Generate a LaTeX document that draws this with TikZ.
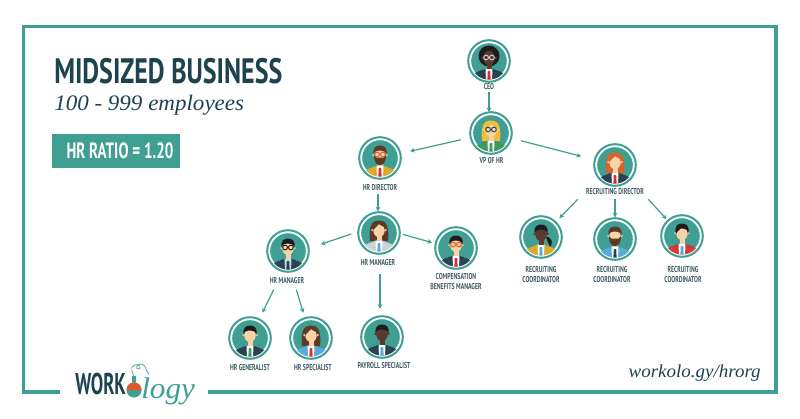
\documentclass[tikz,border=0pt]{standalone}
\usepackage{fontspec}
\usepackage{tikz}
\usetikzlibrary{positioning}
\usetikzlibrary{arrows.meta}
\newfontfamily\dinfont[FakeStretch=0.68]{PT Sans}
\newfontfamily\titlefont[FakeStretch=0.735]{PT Sans}
\newfontfamily\logofont[FakeStretch=0.62]{PT Sans}
\newfontfamily\slabfont[FakeStretch=1.04]{Liberation Serif}
\definecolor{orgteal}{HTML}{3E9F92}
\definecolor{orgdark}{HTML}{1D4350}
\definecolor{orglabel}{HTML}{3F5A63}
\definecolor{flaskred}{HTML}{E2572B}
\definecolor{skinpale}{HTML}{F8D3A6}
\definecolor{skindark}{HTML}{5B3A2E}
\definecolor{hairblack}{HTML}{1E1A1D}
\definecolor{hairbrown}{HTML}{5C3A2A}
\definecolor{hairred}{HTML}{D9622B}
\definecolor{hairgold}{HTML}{F0BF36}
\definecolor{suitdark}{HTML}{2B4351}
\definecolor{suitgold}{HTML}{DDA82C}
\definecolor{suitgreen}{HTML}{3E9A5F}
\definecolor{suitgrey}{HTML}{CBD3D6}
\definecolor{suitblue}{HTML}{5AA9D8}
\definecolor{suitred}{HTML}{D23A34}
\definecolor{tiered}{HTML}{D62F2F}
\definecolor{tieblue}{HTML}{55ACD6}
\definecolor{tiegreen}{HTML}{3E9A5F}
\newcommand{\person}[7]% node, skin, suit, shirt, tie, behind, in front
{\begin{scope}[shift={(#1.center)}]
	\clip (0,0) circle (18.6);
	#6
	\fill[#3] (-16,20) -- (-16,15) .. controls (-14,10) and (-8,10) .. (-3,7.5) -- (3,7.5) .. controls (8,10) and (14,10) .. (16,15) -- (16,20) -- cycle;
	\fill[#4] (-3.5,7.5) -- (3.5,7.5) -- (3,20) -- (-3,20) -- cycle;
	\fill[#2] (-2.5,1) rectangle (2.5,8);
	\fill[#5] (-1.2,10) -- (1.2,10) -- (1.7,20) -- (-1.7,20) -- cycle;
	\fill[#2] (-6.6,-3) circle (1.3) (6.6,-3) circle (1.3) (0,-3) ellipse (5.8 and 7.2);
	#7
\end{scope}}
\newcommand{\shorthair}[1]% colour
{\fill[#1] (-6.2,-3) .. controls (-8,-11) and (-3,-12.5) .. (0,-12.5) .. controls (4,-12.5) and (8,-10) .. (6.2,-3) -- (5.2,-6) .. controls (2,-8) and (-3,-8) .. (-5.2,-6) -- cycle;
}
\newcommand{\longhair}[1]% colour
{\fill[#1] (-9,8) .. controls (-10,-4) and (-9,-12.5) .. (0,-12.5) .. controls (9,-12.5) and (10,-4) .. (9,8) -- cycle;
}
\newcommand{\fringe}[1]% colour
{\fill[#1] (-6,-2) .. controls (-7,-11) and (-2,-11) .. (0,-11) .. controls (3,-11) and (7,-10) .. (6,-2) -- (5,-6) .. controls (3,-7) and (1,-8) .. (0,-9) .. controls (-1,-7) and (-4,-6) .. (-5,-4) -- cycle;
}
\newcommand{\glasses}[1]% colour
{\draw[#1,line width=.7pt] (-2.9,-3.5) circle (2.4) (2.9,-3.5) circle (2.4) (-.5,-3.5) -- (.5,-3.5);
}
\newcommand{\beard}[1]% colour
{\fill[#1] (-5.9,-3) .. controls (-6,5) and (-3,7) .. (0,7) .. controls (3,7) and (6,5) .. (5.9,-3) .. controls (5,0) and (3,0) .. (0,-.5) .. controls (-3,0) and (-5,0) .. (-5.9,-3) -- cycle;
}
\tikzset{
	avatar/.style={circle,fill=orgteal,draw=white,line width=.8pt,minimum size=27.6pt,inner sep=0pt},
	ringline/.style={orgteal,line width=1.5pt},
	rolelabel/.style={font=\dinfont\bfseries\fontsize{6.4}{7}\selectfont,text=orglabel,align=center,inner sep=0pt},
	linkline/.style={orgteal,line width=.9pt,-{Stealth[length=3.4pt,width=3.6pt]}},
	hrbox/.style={fill=orgteal,text=white,minimum width=96pt,minimum height=25.5pt,inner sep=0pt,font=\dinfont\bfseries\fontsize{16.6}{20}\selectfont},
}
\begin{document}
\begin{tikzpicture}[x=.75pt,y=-.75pt]
	\useasboundingbox (0,0) rectangle (800,418);
	\fill[white] (0,0) rectangle (800,418);
	\draw[orgteal,line width=2.7pt] (60,392) -- (23.5,392) -- (23.5,26.5) -- (776,26.5) -- (776,392) -- (208,392);
	\node[anchor=west,inner sep=0pt,text=orgdark,font=\titlefont\bfseries\fontsize{26.5}{30}\selectfont] (title) at (54,71.5){MIDSIZED BUSINESS};
	\node[anchor=west,inner sep=0pt,text=orgdark,font=\slabfont\itshape\fontsize{16.6}{20}\selectfont] (subtitle) at (54,105){100 - 999 employees};
	\node[hrbox] (ratio) at (116,151){\hspace{6pt}HR RATIO = 1.20};
	\node[anchor=east,inner sep=0pt,text=orgdark,font=\slabfont\itshape\fontsize{13.7}{16}\selectfont] (url) at (761,373){workolo.gy/hrorg};
	% people
	\node[avatar] (ceo) at (489,61){};
	\node[avatar] (vp) at (491,133){};
	\node[avatar] (hrdir) at (380,158){};
	\node[avatar] (recdir) at (615,165){};
	\node[avatar] (mgr) at (379,233){};
	\node[avatar] (mgrleft) at (288,251){};
	\node[avatar] (comp) at (456,248){};
	\node[avatar] (general) at (250,338){};
	\node[avatar] (special) at (311,338){};
	\node[avatar] (payroll) at (382,337){};
	\node[avatar] (coorda) at (541,237){};
	\node[avatar] (coordb) at (615,239){};
	\node[avatar] (coordc) at (682,236){};
	\foreach \who in {ceo,vp,hrdir,recdir,mgr,mgrleft,comp,general,special,payroll,coorda,coordb,coordc}
		\draw[ringline] (\who) circle (20.8);
	\person{ceo}{skindark}{suitdark}{white}{tiered}{\fill[hairblack] (0,-5) circle (10.5);}{\glasses{suitgrey}}
	\person{vp}{skinpale}{suitgreen}{white}{suitgreen}{\longhair{hairgold}}{\fringe{hairgold}\glasses{suitdark}}
	\person{hrdir}{skinpale}{suitgold}{white}{tiered}{}{\shorthair{hairbrown}\beard{hairbrown}\glasses{flaskred}}
	\person{recdir}{skinpale}{suitdark}{white}{tiered}{\longhair{hairred}}{\fringe{hairred}}
	\person{mgr}{skinpale}{suitgrey}{white}{tieblue}{\longhair{hairbrown}}{\fringe{hairbrown}}
	\person{mgrleft}{skinpale}{suitdark}{suitblue!40}{suitdark}{}{\shorthair{hairblack}\glasses{hairblack}}
	\person{comp}{skinpale}{suitdark}{white}{tiered}{}{\shorthair{hairblack}\glasses{flaskred}}
	\person{general}{skinpale}{suitdark}{white}{tiegreen}{}{\shorthair{hairblack}}
	\person{special}{skinpale}{suitblue}{white}{tiered}{\longhair{hairbrown}}{\fringe{hairbrown}}
	\person{payroll}{skindark}{suitdark}{white}{tieblue}{}{\shorthair{hairblack}}
	\person{coorda}{skindark}{suitgold}{white}{tieblue}{\fill[hairblack] (3,0) .. controls (12,-2) and (12,8) .. (9,10) -- (5,0) -- cycle;}{\shorthair{hairblack}}
	\person{coordb}{skinpale}{suitblue}{white}{suitdark}{}{\shorthair{hairbrown}\beard{hairbrown}}
	\person{coordc}{skinpale}{suitred}{white}{tieblue}{}{\shorthair{hairblack}\fringe{hairblack}}
	% labels
	\node[rolelabel] (ceolabel) at (489,87){CEO};
	\node[rolelabel] (vplabel) at (491.5,160.5){VP OF HR};
	\node[rolelabel] (hrdirlabel) at (380,188){HR DIRECTOR};
	\node[rolelabel] (recdirlabel) at (615,192){RECRUITING DIRECTOR};
	\node[rolelabel] (mgrlabel) at (378,263){HR MANAGER};
	\node[rolelabel] (mgrleftlabel) at (287,281){HR MANAGER};
	\node[rolelabel] (complabel) at (456,281.5){COMPENSATION\\BENEFITS MANAGER};
	\node[rolelabel] (generallabel) at (250,368){HR GENERALIST};
	\node[rolelabel] (speciallabel) at (313,368){HR SPECIALIST};
	\node[rolelabel] (payrolllabel) at (384,366){PAYROLL SPECIALIST};
	\node[rolelabel] (coordalabel) at (541,274.5){RECRUITING\\COORDINATOR};
	\node[rolelabel] (coordblabel) at (612,274.5){RECRUITING\\COORDINATOR};
	\node[rolelabel] (coordclabel) at (683,274.5){RECRUITING\\COORDINATOR};
	% links
	\draw[linkline,shorten <=1.5pt,shorten >=1.5pt] (ceolabel.south) -- (ceolabel.south |- vp.north);
	\draw[linkline,shorten <=9pt,shorten >=9pt] (vp) -- (hrdir);
	\draw[linkline,shorten <=9pt,shorten >=12pt] (vp) -- (recdir);
	\draw[linkline,shorten <=2pt,shorten >=2pt] ([xshift=-1.5pt]hrdirlabel.south) -- ([xshift=-1.5pt]hrdirlabel.south |- mgr.north);
	\draw[linkline,shorten <=7pt,shorten >=11pt] ([yshift=1.5pt]mgr.west) -- ([yshift=1.5pt]mgrleft.east);
	\draw[linkline,shorten <=4pt,shorten >=4pt] (mgr.east) -- ([yshift=3pt]comp.west);
	\draw[linkline,shorten <=6pt,shorten >=7pt] ([xshift=1.5pt]mgrlabel.south) -- ([xshift=1.5pt]mgrlabel.south |- payroll.north);
	\draw[linkline,shorten >=7pt] ([xshift=-10pt,yshift=-4pt]mgrleftlabel.south) -- (general);
	\draw[linkline,shorten >=5.6pt] ([xshift=7pt,yshift=-4pt]mgrleftlabel.south) -- (special);
	\draw[linkline,shorten >=5.6pt] ([xshift=-28pt,yshift=-3pt]recdirlabel.south) -- (coorda);
	\draw[linkline,shorten >=2pt] ([yshift=-3pt]recdirlabel.south) -- (coordb.north);
	\draw[linkline,shorten >=3pt] ([xshift=25pt,yshift=-3pt]recdirlabel.south) -- (coordc);
	% logo
	\node[anchor=west,inner sep=0pt,text=orgdark,font=\logofont\bfseries\fontsize{22.5}{25}\selectfont] (work) at (75,384){WORK};
	\node[anchor=base west,inner sep=0pt,text=orgteal,font=\slabfont\itshape\fontsize{22.5}{28}\selectfont] (logy) at (141,398){logy};
	\draw[orgteal,line width=.5pt] (134,380) .. controls (134,372) and (128,368) .. (135,365) .. controls (140,363) and (142,369) .. (138,369) .. controls (135,369) and (137,363) .. (142,364) .. controls (147,366) and (146,372) .. (149,374);
	\fill[orgteal] (132,376) rectangle (136,384) (134,390) circle (7.5);
	\fill[flaskred] (126.5,390) arc (180:0:7.5 and -7.5) -- cycle;
\end{tikzpicture}
\end{document}
